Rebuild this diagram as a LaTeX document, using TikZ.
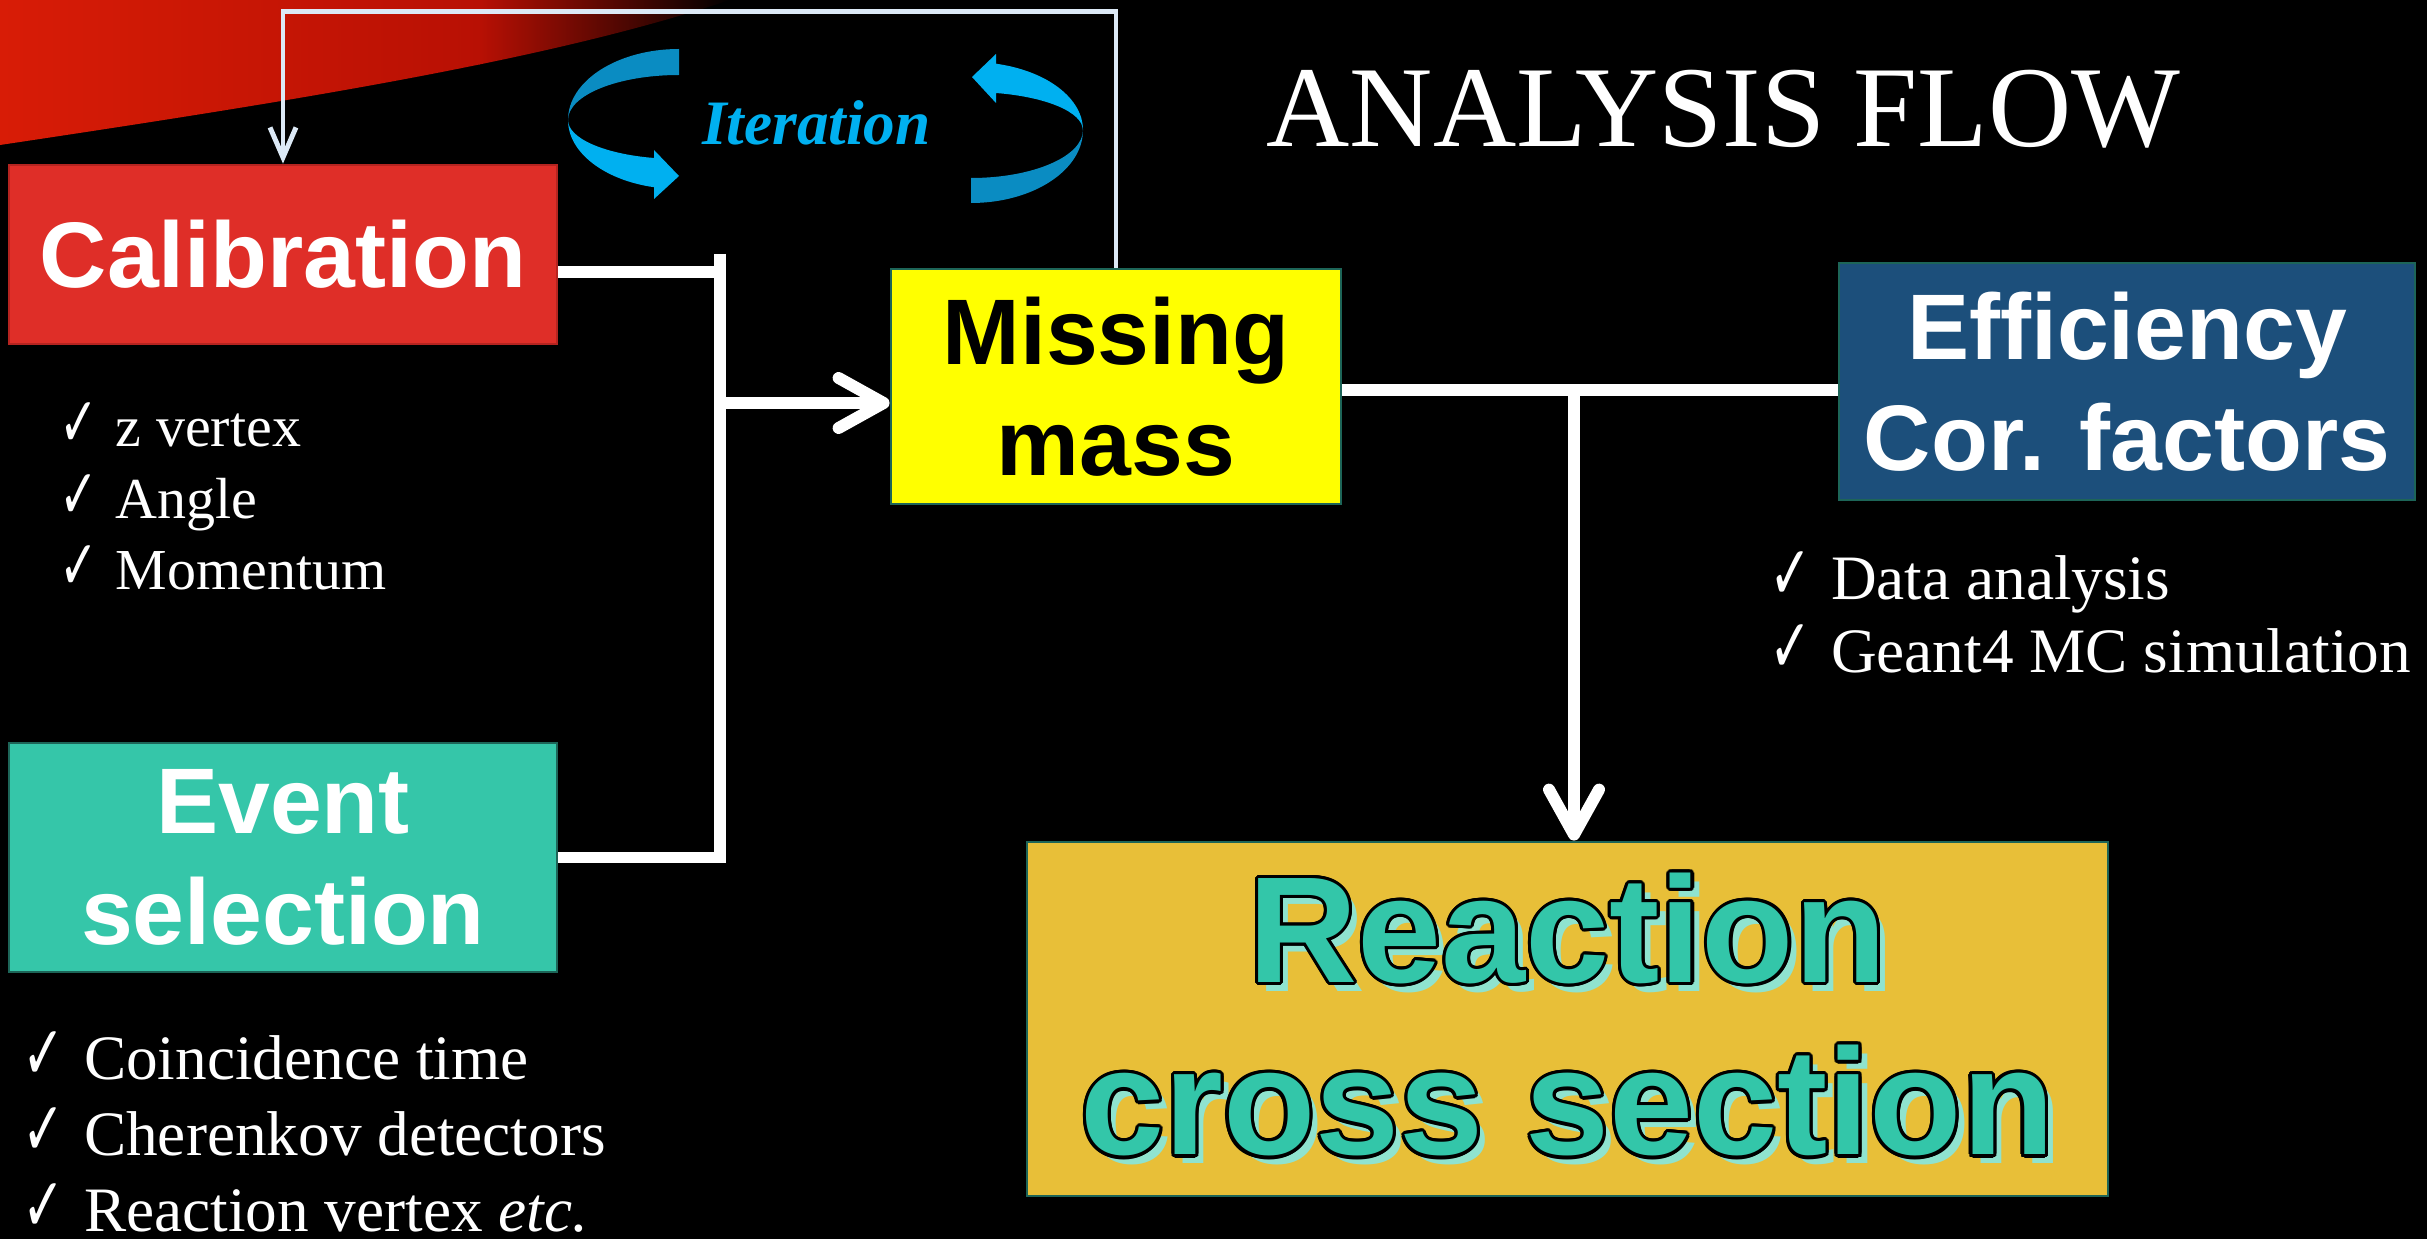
\documentclass[tikz,border=0pt]{standalone}
\usepackage{fontspec}
\setmainfont{Liberation Serif}
\setsansfont{Liberation Sans}
\newfontfamily\symfont{DejaVu Sans}
\usepackage{contour}
\usetikzlibrary{arrows.meta}
\definecolor{calfill}{HTML}{DF2E28}
\definecolor{calborder}{HTML}{B52420}
\definecolor{evtfill}{HTML}{35C6A9}
\definecolor{mmfill}{HTML}{FFFF00}
\definecolor{efffill}{HTML}{1C4F7B}
\definecolor{rxfill}{HTML}{E8BF38}
\definecolor{rxtext}{HTML}{33C6A9}
\definecolor{rxshadow}{HTML}{8FE3CF}
\definecolor{boxborder}{HTML}{1D6558}
\definecolor{iterblue}{HTML}{00B0F0}
\definecolor{iterdark}{HTML}{0A8CC2}
\definecolor{loopline}{HTML}{DCE9F6}
\definecolor{swooshred}{HTML}{D81C06}
\definecolor{swooshmid}{HTML}{B81004}
\definecolor{swooshdark}{HTML}{5A0400}
\contourlength{0.9pt}
\newcommand{\chk}{{\symfont\scalebox{0.8}[1.2]{✓}}\hspace{0.3em}}
\newcommand{\rxline}[1]{\makebox[0pt][l]{\hspace{2.4pt}\raisebox{-2.4pt}{\textcolor{rxshadow}{#1}}}{\color{rxtext}\contour{black}{#1}}}
\tikzset{
  box/.style={
    rectangle,
    draw=boxborder,
    line width=0.8pt,
    inner sep=0pt,
    align=center,
    font=\sffamily\bfseries\fontsize{26.5}{31.5}\selectfont
  },
  calib/.style={
    box,
    fill=calfill,
    draw=calborder,
    text=white,
    minimum width=5.48cm,
    minimum height=1.79cm
  },
  evsel/.style={
    box,
    fill=evtfill,
    text=white,
    minimum width=5.48cm,
    minimum height=2.29cm
  },
  missing/.style={
    box,
    fill=mmfill,
    text=black,
    minimum width=4.50cm,
    minimum height=2.35cm
  },
  effic/.style={
    box,
    fill=efffill,
    text=white,
    minimum width=5.76cm,
    minimum height=2.37cm
  },
  result/.style={
    box,
    fill=rxfill,
    minimum width=10.81cm,
    minimum height=3.54cm,
    font=\sffamily\bfseries\fontsize{43}{49}\selectfont
  },
  link/.style={
    draw=white,
    line width=3.4pt
  },
  flow/.style={
    link,
    -{Straight Barb[length=4.5mm, width=5mm, round]}
  },
  feedback/.style={
    draw=loopline,
    line width=1.4pt,
    -{Straight Barb[length=3mm, width=2.6mm]}
  },
  checklist/.style={
    anchor=base west,
    inner sep=0pt,
    text=white,
    font=\fontsize{18}{21.6}\selectfont
  },
  heading/.style={
    anchor=base west,
    inner sep=0pt,
    text=white,
    font=\fontsize{32.8}{38}\selectfont
  }
}

\begin{document}
\begin{tikzpicture}

% Canvas and the red swoosh in the corner.
\fill[black] (0,0) rectangle (24.27,-12.39);
\useasboundingbox (0,0) rectangle (24.27,-12.39);
\begin{scope}
  \clip (0,0) -- (7.3,0) .. controls (5.5,-0.6) and (3,-1.0) .. (0,-1.45) -- cycle;
  \shade[left color=swooshred, right color=swooshmid] (0,0) rectangle (4.8,-1.5);
  \shade[left color=swooshmid, middle color=swooshdark, right color=black] (4.79,0) rectangle (7.3,-1.5);
\end{scope}

% Boxes.
\node[calib] (cal) at (2.83,-2.545) {Calibration};
\node[evsel] (evt) at (2.83,-8.575) {Event\\selection};
\node[missing] (mm) at (11.16,-3.865) {Missing\\mass};
\node[effic] (eff) at (21.27,-3.815) {Efficiency\\Cor. factors};
\node[result] (rx) at (15.675,-10.19) {\rxline{Reaction}\\\rxline{cross section}};

% Title and iteration label.
\node[heading] (title) at (12.66,-1.47) {ANALYSIS FLOW};
\node[anchor=base, inner sep=0pt, text=iterblue,
      font=\bfseries\itshape\fontsize{18}{21}\selectfont] (iter) at (8.165,-1.45) {Iteration};

% Iteration arrows.
\fill[iterdark] (6.79,-0.49) arc[start angle=90, end angle=180, x radius=1.11, y radius=0.71]
  arc[start angle=180, end angle=90, x radius=1.11, y radius=0.45] -- cycle;
\fill[iterblue] (5.68,-1.20) arc[start angle=180, end angle=257, x radius=1.11, y radius=0.69]
  -- (6.54,-1.99) -- (6.79,-1.76) -- (6.54,-1.50) -- (6.54,-1.58)
  arc[start angle=257, end angle=180, x radius=1.11, y radius=0.39] -- cycle;
\fill[iterblue] (10.83,-1.30) arc[start angle=0, end angle=77, x radius=1.12, y radius=0.68]
  -- (9.96,-0.54) -- (9.72,-0.77) -- (9.96,-1.03) -- (9.96,-0.93)
  arc[start angle=77, end angle=0, x radius=1.12, y radius=0.38] -- cycle;
\fill[iterdark] (10.83,-1.30) arc[start angle=0, end angle=-90, x radius=1.12, y radius=0.73]
  -- (9.71,-1.78) arc[start angle=-90, end angle=0, x radius=1.12, y radius=0.48] -- cycle;

% Check lists.
\foreach \entry [count=\i] in {z vertex, Angle, Momentum}
  \node[checklist, font=\fontsize{16.5}{20}\selectfont] (calchk\i) at (0.59,{-4.47-0.71*(\i-1)}) {\chk\entry};
\foreach \entry [count=\i] in {Coincidence time, Cherenkov detectors, {Reaction vertex \textit{etc.}}}
  \node[checklist] (evtchk\i) at (0.22,{-10.79-0.76*(\i-1)}) {\chk\entry};
\foreach \entry [count=\i] in {Data analysis, Geant4 MC simulation}
  \node[checklist] (effchk\i) at (17.69,{-5.99-0.74*(\i-1)}) {\chk\entry};

% Junction points.
\coordinate (jtop) at (7.20,-2.54);
\coordinate (jcal) at (7.20,-2.72);
\coordinate (jin) at (7.20,-4.03);
\coordinate (split) at (15.74,-3.90);
\coordinate (looptop) at (6.97,-0.115);

% Main flows.
\draw[link] (jcal -| cal.east) -- (jcal);
\draw[link] (jtop) |- (evt.east);
\draw[flow] (jin) -- (jin -| mm.west);
\draw[link] (split -| mm.east) -- (split -| eff.west);
\draw[flow] (split) -- (split |- rx.north);

% Feedback loop.
\draw[feedback] (mm.north) |- (looptop) -| (cal.north);

\end{tikzpicture}
\end{document}
